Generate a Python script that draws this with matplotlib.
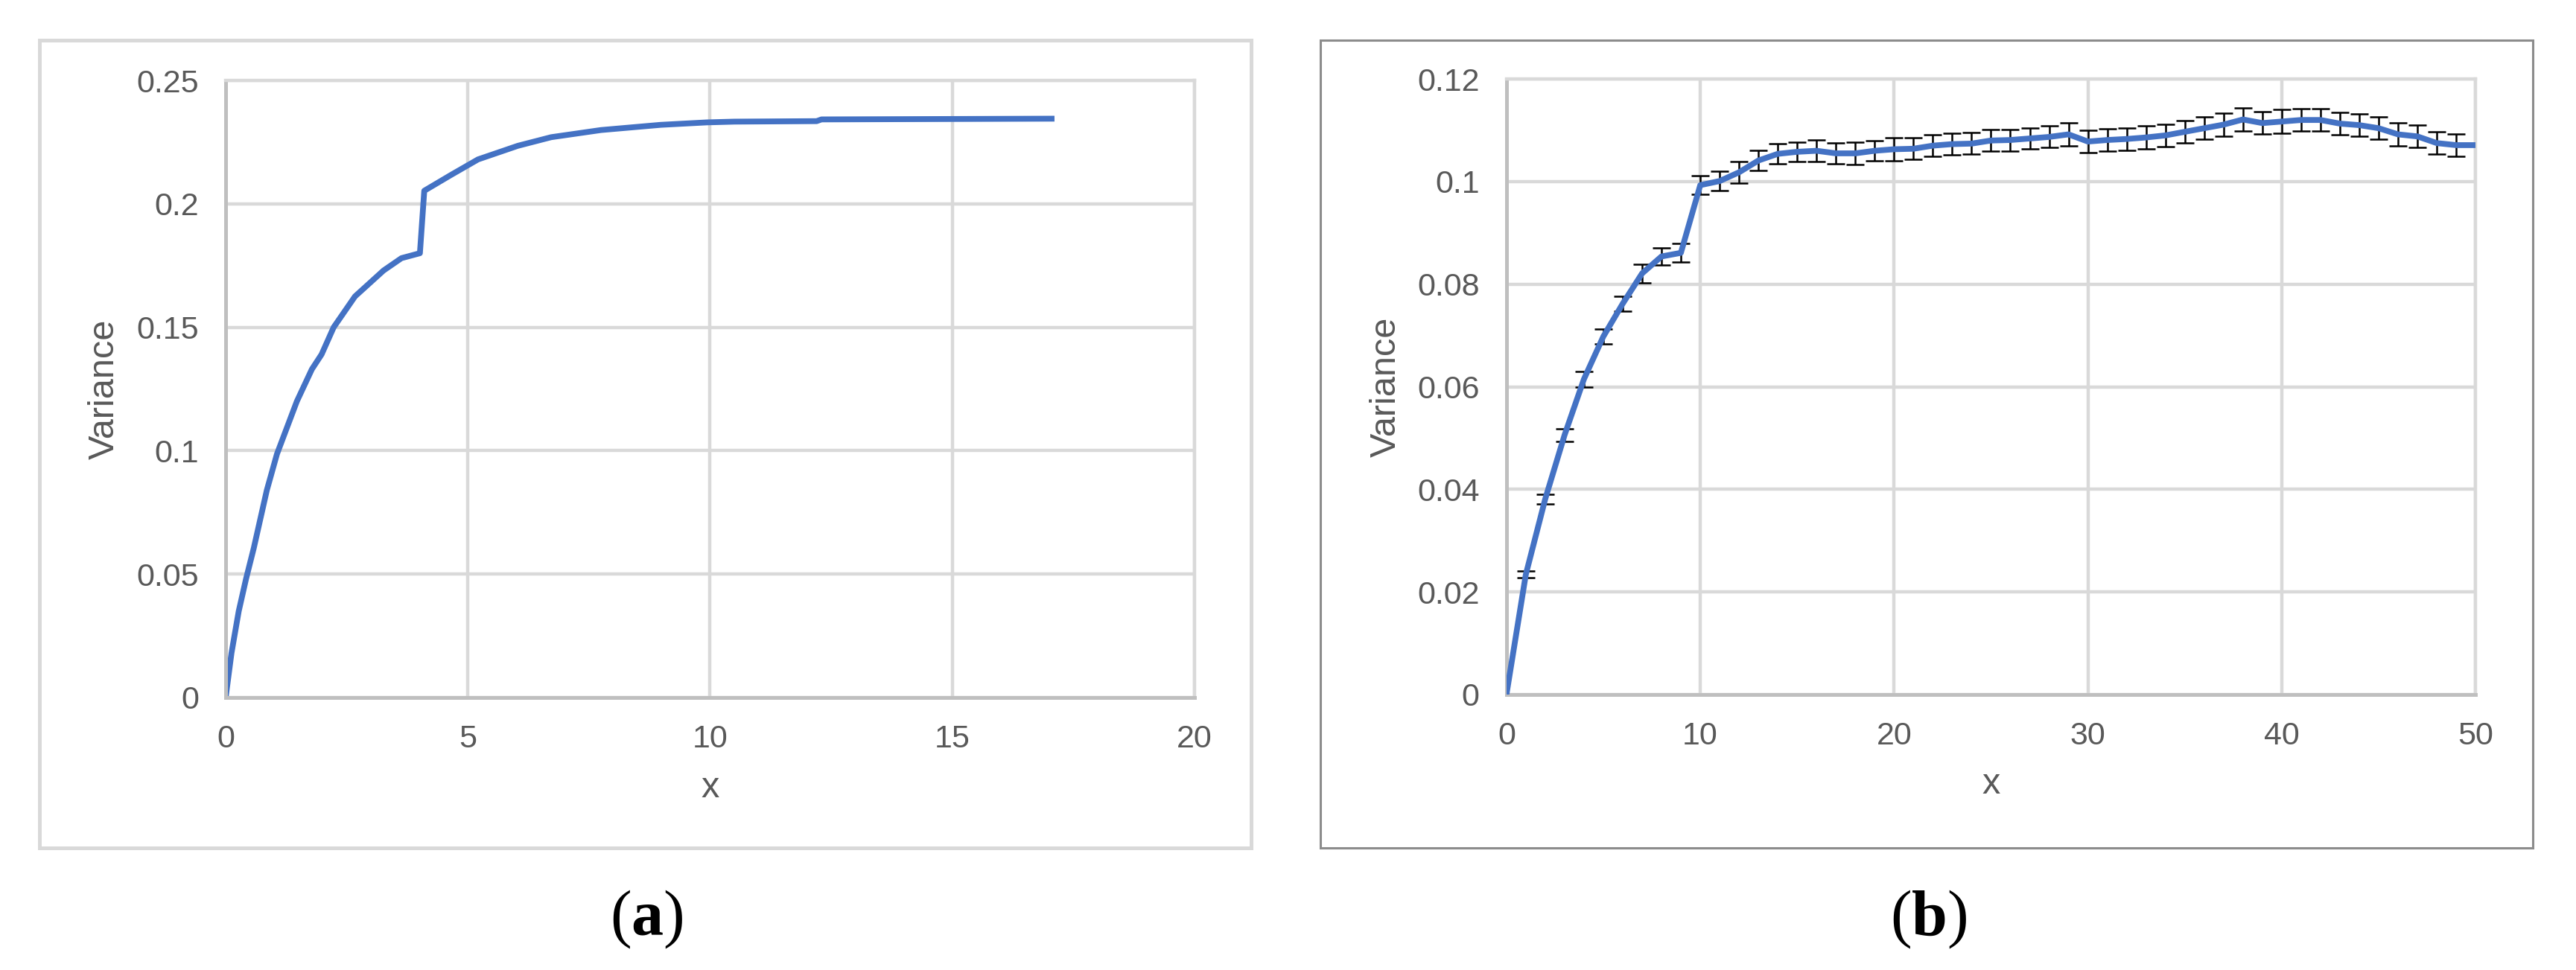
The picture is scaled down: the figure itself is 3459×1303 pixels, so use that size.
#!/usr/bin/env python3
from __future__ import annotations

import matplotlib

matplotlib.use("Agg")
import matplotlib.pyplot as plt
from matplotlib.patches import Rectangle
from matplotlib.ticker import FuncFormatter

# panel (a): single variance curve
xa = [0, 0.12, 0.27, 0.42, 0.58, 0.85, 1.06, 1.47, 1.78, 1.98, 2.23, 2.67, 3.26, 3.63,
      4.01, 4.1, 4.66, 5.21, 6.03, 6.72, 7.75, 8.98, 9.94, 10.5, 12.2, 12.3, 17.05]
ya = [0, 0.018, 0.035, 0.048, 0.0605, 0.084, 0.0987, 0.12, 0.133, 0.139, 0.150, 0.1625,
      0.173, 0.178, 0.180, 0.2053, 0.2118, 0.218, 0.2235, 0.227, 0.2299, 0.232, 0.233,
      0.2333, 0.2335, 0.2342, 0.2345]

# panel (b): mean variance with error bars, x = 0..50
xb = list(range(51))
yb = [0, 0.0234, 0.0381, 0.0506, 0.0615, 0.0698, 0.0762, 0.0821, 0.0854, 0.0861,
      0.0993, 0.1001, 0.1018, 0.1041, 0.1054, 0.1058, 0.1060, 0.1055, 0.1055, 0.1060,
      0.1063, 0.1064, 0.1070, 0.1073, 0.1074, 0.1080, 0.1081, 0.1084, 0.1087, 0.1092,
      0.1078, 0.1081, 0.1083, 0.1086, 0.1090, 0.1097, 0.1104, 0.1111, 0.1121, 0.1114,
      0.1117, 0.1120, 0.1120, 0.1113, 0.1110, 0.1104, 0.1092, 0.1088, 0.1075, 0.1071,
      0.1071]
eb = [0, 0.00065, 0.0010, 0.0012, 0.0015, 0.0015, 0.0015, 0.0018, 0.0017, 0.0018,
      0.0018, 0.0019, 0.0021, 0.0020, 0.0020, 0.0019, 0.0021, 0.0020, 0.0022, 0.0020,
      0.0022, 0.0021, 0.0021, 0.0021, 0.0021, 0.0021, 0.0021, 0.0021, 0.0021, 0.0022,
      0.0022, 0.0022, 0.0022, 0.0022, 0.0022, 0.0022, 0.0022, 0.0022, 0.0022, 0.0022,
      0.0023, 0.0022, 0.0022, 0.0022, 0.0022, 0.0022, 0.0022, 0.0022, 0.0022, 0.0022,
      0]

xa_ticks = [0, 5, 10, 15, 20]
ya_ticks = [0, 0.05, 0.1, 0.15, 0.2, 0.25]
xb_ticks = [0, 10, 20, 30, 40, 50]
yb_ticks = [0, 0.02, 0.04, 0.06, 0.08, 0.1, 0.12]

LINE = "#4472c4"
GRID = "#d9d9d9"
AXIS = "#bfbfbf"
TEXT = "#595959"


def setup_style() -> None:
    plt.rcParams.update(
        {
            "font.family": ["Liberation Sans", "DejaVu Sans"],
            "font.size": 15,
            "xtick.labelsize": 15.5,
            "ytick.labelsize": 15.5,
            "axes.labelsize": 17.5,
            "mathtext.fontset": "custom",
            "mathtext.rm": "Liberation Serif",
            "mathtext.bf": "Liberation Serif:bold",
        }
    )


def excel_fmt(v, _pos):
    return f"{v:.2f}".rstrip("0").rstrip(".")


def style_axes(ax, xlim, ylim, xticks, yticks) -> None:
    ax.set_xlim(*xlim)
    ax.set_ylim(*ylim)
    ax.set_xticks(xticks)
    ax.set_yticks(yticks)
    ax.yaxis.set_major_formatter(FuncFormatter(excel_fmt))
    ax.grid(True, color=GRID, linewidth=1.6)
    ax.set_axisbelow(True)
    for side in ("top", "right"):
        ax.spines[side].set_color(GRID)
        ax.spines[side].set_linewidth(1.6)
    for side in ("left", "bottom"):
        ax.spines[side].set_color(AXIS)
        ax.spines[side].set_linewidth(1.8)
    ax.tick_params(length=0, colors=TEXT, pad=13)
    ax.set_xlabel("x", color=TEXT)
    ax.set_ylabel("Variance", color=TEXT)
    ax.xaxis.label.set_verticalalignment("center")
    ax.yaxis.label.set_verticalalignment("center")
    ax.xaxis.set_label_coords(0.5, -0.146)


def main() -> int:
    setup_style()
    fig = plt.figure(figsize=(17.295, 6.515), dpi=200)

    fig.add_artist(Rectangle((0.0153, 0.1259), 0.4704, 0.8327, transform=fig.transFigure,
                             fill=False, edgecolor=GRID, linewidth=1.8))
    fig.add_artist(Rectangle((0.5126, 0.1259), 0.4707, 0.8327, transform=fig.transFigure,
                             fill=False, edgecolor="#8c8c8c", linewidth=1.1))

    ax = fig.add_axes([0.0876, 0.2809, 0.3761, 0.6362])
    ax.plot(xa, ya, color=LINE, linewidth=2.8, solid_joinstyle="round")
    style_axes(ax, (0, 20), (0, 0.25), xa_ticks, ya_ticks)
    ax.yaxis.set_label_coords(-0.125, 0.5)

    ax = fig.add_axes([0.5848, 0.2840, 0.3762, 0.6346])
    ax.errorbar(xb, yb, yerr=eb, fmt="none", ecolor="black", elinewidth=0.9,
                capsize=4.2, capthick=0.9, zorder=2)
    ax.plot(xb, yb, color=LINE, linewidth=2.8, solid_joinstyle="round", zorder=3)
    style_axes(ax, (0, 50), (0, 0.12), xb_ticks, yb_ticks)
    ax.yaxis.set_label_coords(-0.124, 0.5)

    fig.text(0.2509, 0.052, r"($\mathbf{a}$)", ha="center", va="center", fontsize=31,
             family="Liberation Serif")
    fig.text(0.7487, 0.052, r"($\mathbf{b}$)", ha="center", va="center", fontsize=31,
             family="Liberation Serif")

    fig.savefig("out.png", dpi=200)
    plt.close(fig)
    return 0


if __name__ == "__main__":
    raise SystemExit(main())
